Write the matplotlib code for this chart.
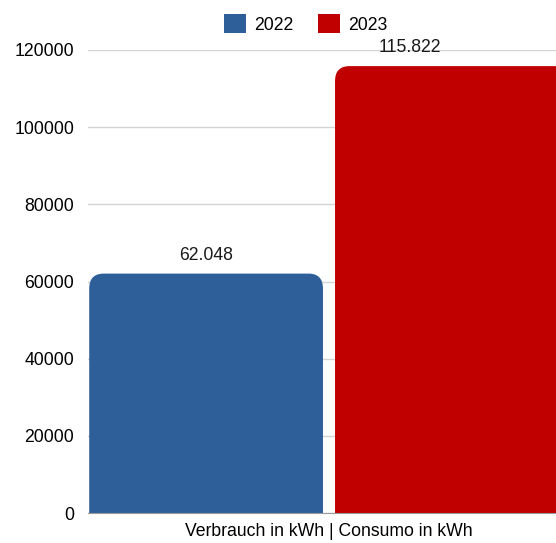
import matplotlib.pyplot as plt
from matplotlib.patches import FancyBboxPatch, Patch

plt.rcParams['font.family'] = ['Liberation Sans', 'DejaVu Sans']

categories = ['Verbrauch in kWh | Consumo in kWh']
years = ['2022', '2023']
values = [62048, 115822]
labels = ['62.048', '115.822']
colors = ['#2E5F99', '#C00000']
yticks = [0, 20000, 40000, 60000, 80000, 100000, 120000]

fs = 12.7

fig = plt.figure(figsize=(5.56, 5.43), dpi=100)
# axes runs past the right edge so the red bar gets cut off like in the original
ax = fig.add_axes([88 / 556, 30 / 543, 482 / 556, 463 / 543])
ax.set_xlim(-0.5, 0.5)
ax.set_ylim(0, 120000)

width = 0.485
gap = 0.025
r_x = 0.03
r_y = 15 * 120000 / 463
label_shift = [0, -42]  # px, the 2023 label sits left of its bar centre

for i, (yr, v, lab, c) in enumerate(zip(years, values, labels, colors)):
    x0 = (i - 0.5) * (width + gap) - width / 2
    box = FancyBboxPatch((x0, -r_y * 2), width, v + r_y * 2,
                         boxstyle=f'round,pad=0,rounding_size={r_x}',
                         mutation_aspect=r_y / r_x, fc=c, ec='none', zorder=3)
    ax.add_patch(box)
    ax.annotate(lab, (x0 + width / 2, v), xytext=(label_shift[i] * 0.72, 7),
                textcoords='offset points', ha='center', va='bottom',
                fontsize=fs, color='#1a1a1a')

ax.set_yticks(yticks)
ax.set_yticklabels([str(t) for t in yticks], fontsize=fs)
ax.set_xticks([0])
ax.set_xticklabels(categories, fontsize=fs)
ax.tick_params(axis='x', length=0, pad=7.5)
ax.tick_params(axis='y', length=0, pad=10)
ax.grid(axis='y', color='#d4d4d4', lw=1, zorder=0)
for s in ['top', 'right', 'left']:
    ax.spines[s].set_visible(False)
ax.spines['bottom'].set_color('#9a9a9a')
ax.spines['bottom'].set_zorder(4)

handles = [Patch(fc=c, ec='none', label=y) for y, c in zip(years, colors)]
fig.legend(handles=handles, loc='center', bbox_to_anchor=(306 / 556, 1 - 24 / 543),
           ncol=2, frameon=False, fontsize=fs, handlelength=1.2, handleheight=1.25,
           handletextpad=0.5, columnspacing=1.4)

fig.savefig('out.png', dpi=100)
